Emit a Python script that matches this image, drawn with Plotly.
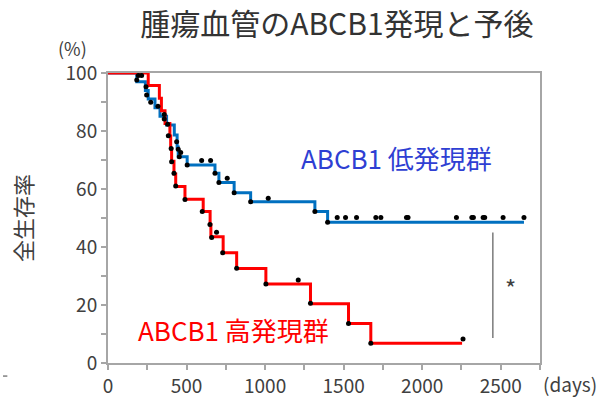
import plotly.graph_objects as go

# ---- data ----
blue_days = [0, 183, 238, 256, 299, 331, 373, 422, 440, 447, 504, 681, 706, 803, 908, 1317, 1398, 2648]
blue_surv = [100, 97.0, 94.0, 91.0, 88.0, 85.1, 82.1, 78.6, 74.5, 71.1, 68.3, 65.4, 62.2, 58.7, 55.6, 52.2, 48.5, 48.5]

red_days = [0, 256, 327, 340, 363, 394, 399, 405, 420, 431, 490, 606, 650, 655, 733, 819, 1005, 1289, 1531, 1673, 2254]
red_surv = [100, 95.7, 91.3, 87.0, 82.6, 78.3, 73.9, 69.6, 65.2, 60.9, 56.5, 52.2, 47.8, 43.5, 38.0, 32.6, 27.2, 20.4, 13.6, 6.8, 6.8]

dot_days = [183, 193, 214, 242, 246, 272, 318, 358, 358, 380, 384, 402, 437, 447, 463, 454, 405, 504, 596, 653,
            420, 681, 759, 706, 431, 803, 490, 908, 1020, 600, 649, 691, 660, 730, 819, 1005, 1211, 1289, 1531,
            1673, 2260, 1317, 1398, 1459, 1512, 1582, 1705, 1737, 1900, 1910, 2218, 2316, 2326, 2388, 2398, 2515, 2648]
dot_surv = [97.6, 99.1, 99.1, 95.3, 92.4, 89.9, 88.5, 85.7, 84.1, 82.3, 78.4, 74.0, 76.3, 73.7, 72.6, 71.1, 69.4, 68.3, 69.8, 69.8,
            65.4, 65.4, 63.7, 62.2, 61.0, 58.7, 56.4, 55.6, 56.8, 52.2, 47.8, 45.1, 43.3, 38.0, 32.7, 27.2, 28.6, 20.6, 13.6,
            6.8, 8.3, 52.2, 48.5, 50.2, 50.2, 50.2, 50.2, 50.2, 50.2, 50.2, 50.2, 50.2, 50.2, 50.2, 50.2, 50.2, 50.2]

x_ticks = [0, 500, 1000, 1500, 2000, 2500]
y_ticks = [0, 20, 40, 60, 80, 100]

title_text = "腫瘍血管のABCB1発現と予後"
y_title = "全生存率"
low_label = "ABCB1 低発現群"
high_label = "ABCB1 高発現群"

FONT = "Noto Sans CJK JP"
GRAY = "#A6A6A6"
TXT = "#404040"

fig = go.Figure()
fig.add_trace(go.Scatter(x=blue_days, y=blue_surv, mode="lines", line=dict(color="#0070C0", width=3, shape="hv"),
                         showlegend=False, hoverinfo="skip"))
fig.add_trace(go.Scatter(x=red_days, y=red_surv, mode="lines", line=dict(color="#FF0000", width=3, shape="hv"),
                         showlegend=False, hoverinfo="skip"))
fig.add_trace(go.Scatter(x=dot_days, y=dot_surv, mode="markers", marker=dict(color="black", size=5),
                         showlegend=False, hoverinfo="skip"))

# significance bar
fig.add_trace(go.Scatter(x=[2450, 2450], y=[45, 8.6], mode="lines", line=dict(color="#595959", width=1.2),
                         showlegend=False, hoverinfo="skip"))

fig.update_layout(
    width=607, height=401,
    margin=dict(l=108, r=67, t=73, b=38),
    paper_bgcolor="white", plot_bgcolor="white",
    font=dict(family=FONT, color=TXT, size=19),
    title=dict(text=title_text, x=0.555, xref="container", xanchor="center",
               y=0.94, yref="container", yanchor="middle",
               font=dict(size=30, color="#333333", family=FONT)),
    showlegend=False,
)
fig.update_xaxes(range=[0, 2750], tickvals=x_ticks, ticks="outside", ticklen=5, tickcolor=GRAY, tickwidth=1.5,
                 minor=dict(dtick=250, tick0=0, ticks="outside", ticklen=5, tickcolor=GRAY, tickwidth=1.5),
                 showline=True, linecolor=GRAY, linewidth=2, mirror=True, showgrid=False, zeroline=False,
                 automargin=False, tickfont=dict(size=19, color=TXT))
fig.update_yaxes(range=[0, 100], tickvals=y_ticks, ticks="outside", ticklen=5, tickcolor=GRAY, tickwidth=1.5,
                 minor=dict(dtick=10, tick0=0, ticks="outside", ticklen=5, tickcolor=GRAY, tickwidth=1.5),
                 showline=True, linecolor=GRAY, linewidth=2, mirror=True, showgrid=False, zeroline=False,
                 automargin=False, tickfont=dict(size=19, color=TXT))

fig.add_annotation(text="(%)", xref="paper", yref="paper", x=-0.083, y=1.086, showarrow=False,
                   xanchor="center", yanchor="middle", font=dict(size=18, color=TXT))
fig.add_annotation(text="(days)", xref="paper", yref="paper", x=1.07, y=-0.069, showarrow=False,
                   xanchor="center", yanchor="middle", font=dict(size=19, color=TXT))
fig.add_annotation(text=y_title, xref="paper", yref="paper", x=-0.199, y=0.5, showarrow=False, textangle=-90,
                   xanchor="center", yanchor="middle", font=dict(size=22, color=TXT))
fig.add_annotation(text=low_label, x=1838, y=70.7, xref="x", yref="y", showarrow=False,
                   xanchor="center", yanchor="middle", font=dict(size=26, color="#2F3FD3"))
fig.add_annotation(text=high_label, x=801, y=11.4, xref="x", yref="y", showarrow=False,
                   xanchor="center", yanchor="middle", font=dict(size=26, color="#FF0000"))
fig.add_annotation(text="*", x=2563, y=26, xref="x", yref="y", showarrow=False,
                   xanchor="center", yanchor="middle", font=dict(size=24, color=TXT))
fig.add_shape(type="line", xref="paper", yref="paper", x0=-0.243, x1=-0.233, y0=-0.045, y1=-0.045,
              line=dict(color="#404040", width=1))

fig.write_html("out.html", config={"displayModeBar": False},
               post_script="document.body.style.margin='0';")
